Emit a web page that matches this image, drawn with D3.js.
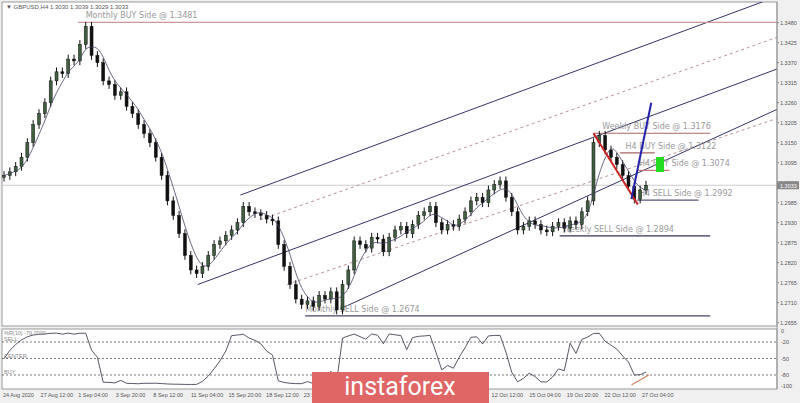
<!DOCTYPE html>
<html><head><meta charset="utf-8">
<script src="https://cdn.jsdelivr.net/npm/d3@7"></script>
<style>body{margin:0;background:#fff}svg{font-family:Tahoma,"DejaVu Sans",sans-serif}.ax{font-family:"Liberation Sans",Arial,sans-serif}</style>
</head><body><svg id="c" width="800" height="403"></svg>
<script>
// close prices per bar
let closes = [1.3060,1.3070,1.3085,1.3110,1.3150,1.3200,1.3230,1.3260,1.3320,1.3345,
1.3340,1.3380,1.3375,1.3420,1.3470,1.3390,1.3370,1.3320,1.3310,1.3280,
1.3290,1.3250,1.3230,1.3200,1.3175,1.3150,1.3110,1.3060,1.2990,1.2950,
1.2900,1.2840,1.2800,1.2790,1.2810,1.2840,1.2870,1.2880,1.2895,1.2910,
1.2930,1.2975,1.2960,1.2955,1.2950,1.2940,1.2935,1.2870,1.2810,1.2760,
1.2720,1.2705,1.2715,1.2700,1.2730,1.2720,1.2740,1.2690,1.2760,1.2800,
1.2880,1.2870,1.2860,1.2890,1.2885,1.2850,1.2890,1.2910,1.2920,1.2900,
1.2925,1.2950,1.2960,1.2975,1.2930,1.2910,1.2925,1.2920,1.2940,1.2960,
1.2990,1.3000,1.2985,1.3020,1.3035,1.3045,1.3000,1.2960,1.2910,1.2920,
1.2935,1.2925,1.2910,1.2905,1.2920,1.2930,1.2915,1.2935,1.2925,1.2960,
1.2990,1.3150,1.3170,1.3130,1.3110,1.3090,1.3060,1.3030,1.2995,1.3020,1.3033];
let wick = 0.0012;
let priceTicks = [1.3480,1.3425,1.3370,1.3315,1.3260,1.3205,1.3150,1.3095,1.3040,1.2985,1.2930,1.2875,1.2820,1.2765,1.2710,1.2655];
let timeLabels = ["24 Aug 2020","27 Aug 12:00","1 Sep 04:00","3 Sep 20:00","8 Sep 12:00","11 Sep 04:00","15 Sep 20:00","18 Sep 12:00","23 Sep 04:00","25 Sep 20:00","30 Sep 12:00","2 Oct 04:00","7 Oct 20:00","12 Oct 12:00","15 Oct 04:00","19 Oct 20:00","22 Oct 12:00","27 Oct 04:00"];
let labelStep = 6.44; // bars between time labels
// horizontal levels: name, price, from bar, to bar, colour, label bar
let levels = [
  ["Monthly BUY Side @ 1.3481",1.3481,12.7,133,"#c99",14],
  ["Monthly SELL Side @ 1.2674",1.2674,51.6,121,"#446",51.6],
  ["Weekly BUY Side @ 1.3176",1.3176,101,121,"#a66",102.5],
  ["H4 BUY Side @ 1.3122",1.3122,105.5,111.5,"#a66",106.5],
  ["H4 BUY Side @ 1.3074",1.3074,108.5,114,"#c77",108.8],
  ["H4 SELL Side @ 1.2992",1.2992,108.5,119,"#557",108.8],
  ["Weekly SELL Side @ 1.2894",1.2894,95.2,121,"#335",95.7]
];
// channel lines: [bar1, price1, bar2, price2, dashed]
let channels = [
  [40.5,1.3006,129.4,1.3534,false],
  [43.9,1.2938,132.5,1.3440,true],
  [33.2,1.2760,132.5,1.3353,false],
  [48.5,1.2760,132.5,1.3217,true],
  [57.6,1.2693,132.5,1.3242,false]
];
let redLine = [101,1.3176,108.6,1.2980];
let blueLine = [107.5,1.2995,110.9,1.3260];

let svg = d3.select("#c");
let W = 777, mainBottom = 326, indTop = 329, indBottom = 389;
svg.append("rect").attr("width",800).attr("height",403).attr("fill","#f0f0f0");
svg.append("rect").attr("x",2).attr("y",2).attr("width",W-2).attr("height",mainBottom-2).attr("fill","#fff").attr("stroke","#999");
svg.append("rect").attr("x",2).attr("y",indTop).attr("width",W-2).attr("height",indBottom-indTop).attr("fill","#fff").attr("stroke","#999");

let x = d3.scaleLinear().domain([0,110]).range([4,646]);
let y = d3.scaleLinear().domain([1.2655,1.3480]).range([322.7,22.7]);

svg.append("clipPath").attr("id","cl").append("rect").attr("x",2).attr("y",2).attr("width",W-2).attr("height",mainBottom-2);
let g = svg.append("g").attr("clip-path","url(#cl)");

// current price line
g.append("line").attr("x1",2).attr("x2",W).attr("y1",y(1.3033)).attr("y2",y(1.3033)).attr("stroke","#ccc");

channels.forEach(c => {
  let k = (c[3]-c[1])/(c[2]-c[0]);
  g.append("line").attr("x1",x(c[0])).attr("y1",y(c[1])).attr("x2",x(140)).attr("y2",y(c[1]+k*(140-c[0])))
    .attr("stroke",c[4]?"#a77":"#336").attr("stroke-width",c[4]?0.8:1).attr("stroke-dasharray",c[4]?"3,3":null);
});

levels.forEach(l => {
  g.append("line").attr("x1",x(l[2])).attr("x2",x(l[3])).attr("y1",y(l[1])).attr("y2",y(l[1])).attr("stroke",l[4]).attr("stroke-width",1.2);
  g.append("text").attr("x",x(l[5])).attr("y",y(l[1])-4).attr("font-size",8).attr("fill","#999").text(l[0]);
});
g.append("rect").attr("x",656).attr("y",157).attr("width",8).attr("height",15).attr("fill","#2d2");

// candles
closes.forEach((c,i) => {
  let o = i ? closes[i-1] : c - 0.0005;
  let hi = Math.max(o,c)+wick, lo = Math.min(o,c)-wick;
  g.append("line").attr("x1",x(i)).attr("x2",x(i)).attr("y1",y(hi)).attr("y2",y(lo)).attr("stroke","#111");
  g.append("rect").attr("x",x(i)-1.5).attr("width",3).attr("y",y(Math.max(o,c))).attr("height",Math.max(1,Math.abs(y(o)-y(c))))
    .attr("fill",c>=o?"#3f5f3f":"#111").attr("stroke","#111").attr("stroke-width",0.5);
});
// moving average
let ma = closes.map((c,i) => d3.mean(closes.slice(Math.max(0,i-3),i+1)));
g.append("path").datum(ma).attr("fill","none").attr("stroke","#446").attr("stroke-width",0.8)
  .attr("d",d3.line().x((d,i)=>x(i)).y(d=>y(d)).curve(d3.curveBasis));

g.append("line").attr("x1",x(redLine[0])).attr("y1",y(redLine[1])).attr("x2",x(redLine[2])).attr("y2",y(redLine[3])).attr("stroke","#c22").attr("stroke-width",2);
g.append("line").attr("x1",x(blueLine[0])).attr("y1",y(blueLine[1])).attr("x2",x(blueLine[2])).attr("y2",y(blueLine[3])).attr("stroke","#22a").attr("stroke-width",2);

// right axis
svg.append("line").attr("x1",W).attr("x2",W).attr("y1",2).attr("y2",indBottom).attr("stroke","#999");
priceTicks.forEach(p => {
  svg.append("line").attr("x1",W).attr("x2",W+2).attr("y1",y(p)).attr("y2",y(p)).attr("stroke","#888");
  svg.append("text").attr("class","ax").attr("x",W+3).attr("y",y(p)+2).attr("font-size",5.5).attr("fill","#555").text(p.toFixed(4));
});
svg.append("rect").attr("x",W).attr("y",y(1.3033)-4).attr("width",22).attr("height",8).attr("fill","#888");
svg.append("text").attr("class","ax").attr("x",W+3).attr("y",y(1.3033)+2.5).attr("font-size",5.5).attr("fill","#fff").text("1.3033");

svg.append("text").attr("class","ax").attr("x",6).attr("y",9).attr("font-size",6).attr("fill","#555").text("▼ GBPUSD,H4  1.3030 1.3039 1.3029 1.3033");

// %R indicator
let n = 10;
let wpr = closes.map((c,i) => {
  let s = closes.slice(Math.max(0,i-n+1),i+1);
  let hh = d3.max(s)+wick, ll = d3.min(s)-wick;
  return -100*(hh-c)/(hh-ll);
});
let yi = d3.scaleLinear().domain([-100,0]).range([386,331]);
[-20,-50,-80].forEach(v => svg.append("line").attr("x1",2).attr("x2",W).attr("y1",yi(v)).attr("y2",yi(v)).attr("stroke","#222").attr("stroke-width",0.6).attr("stroke-dasharray","2,2"));
svg.append("path").datum(wpr).attr("fill","none").attr("stroke","#445").attr("stroke-width",0.9)
  .attr("d",d3.line().x((d,i)=>x(i)).y(d=>yi(d)));
svg.append("line").attr("x1",x(107.5)).attr("y1",yi(-98)).attr("x2",x(110.5)).attr("y2",yi(-80)).attr("stroke","#c63").attr("stroke-width",1);
[[0,"0"],[-20,"-20"],[-50,"-50"],[-80,"-80"],[-100,"-100"]].forEach(t =>
  svg.append("text").attr("class","ax").attr("x",W+4).attr("y",yi(t[0])+2).attr("font-size",5.5).attr("fill","#555").text(t[1]));
[["%R(10) -79.0000",335],["SELL",yi(-20)-1],["CENTER",yi(-50)-1],["BUY",yi(-80)-1]].forEach(t =>
  svg.append("text").attr("class","ax").attr("x",4).attr("y",t[1]).attr("font-size",5.5).attr("fill","#888").text(t[0]));

// time axis
timeLabels.forEach((t,i) => svg.append("text").attr("class","ax").attr("x",x(i*labelStep)-1).attr("y",397).attr("font-size",5.5).attr("fill","#555").text(t));

// watermark
svg.append("rect").attr("x",312).attr("y",372).attr("width",177).attr("height",31).attr("fill","#e06565");
svg.append("text").attr("x",400).attr("y",395).attr("text-anchor","middle").attr("font-size",25).attr("font-family","Roboto, sans-serif").attr("fill","#fff").text("instaforex");
</script></body></html>
